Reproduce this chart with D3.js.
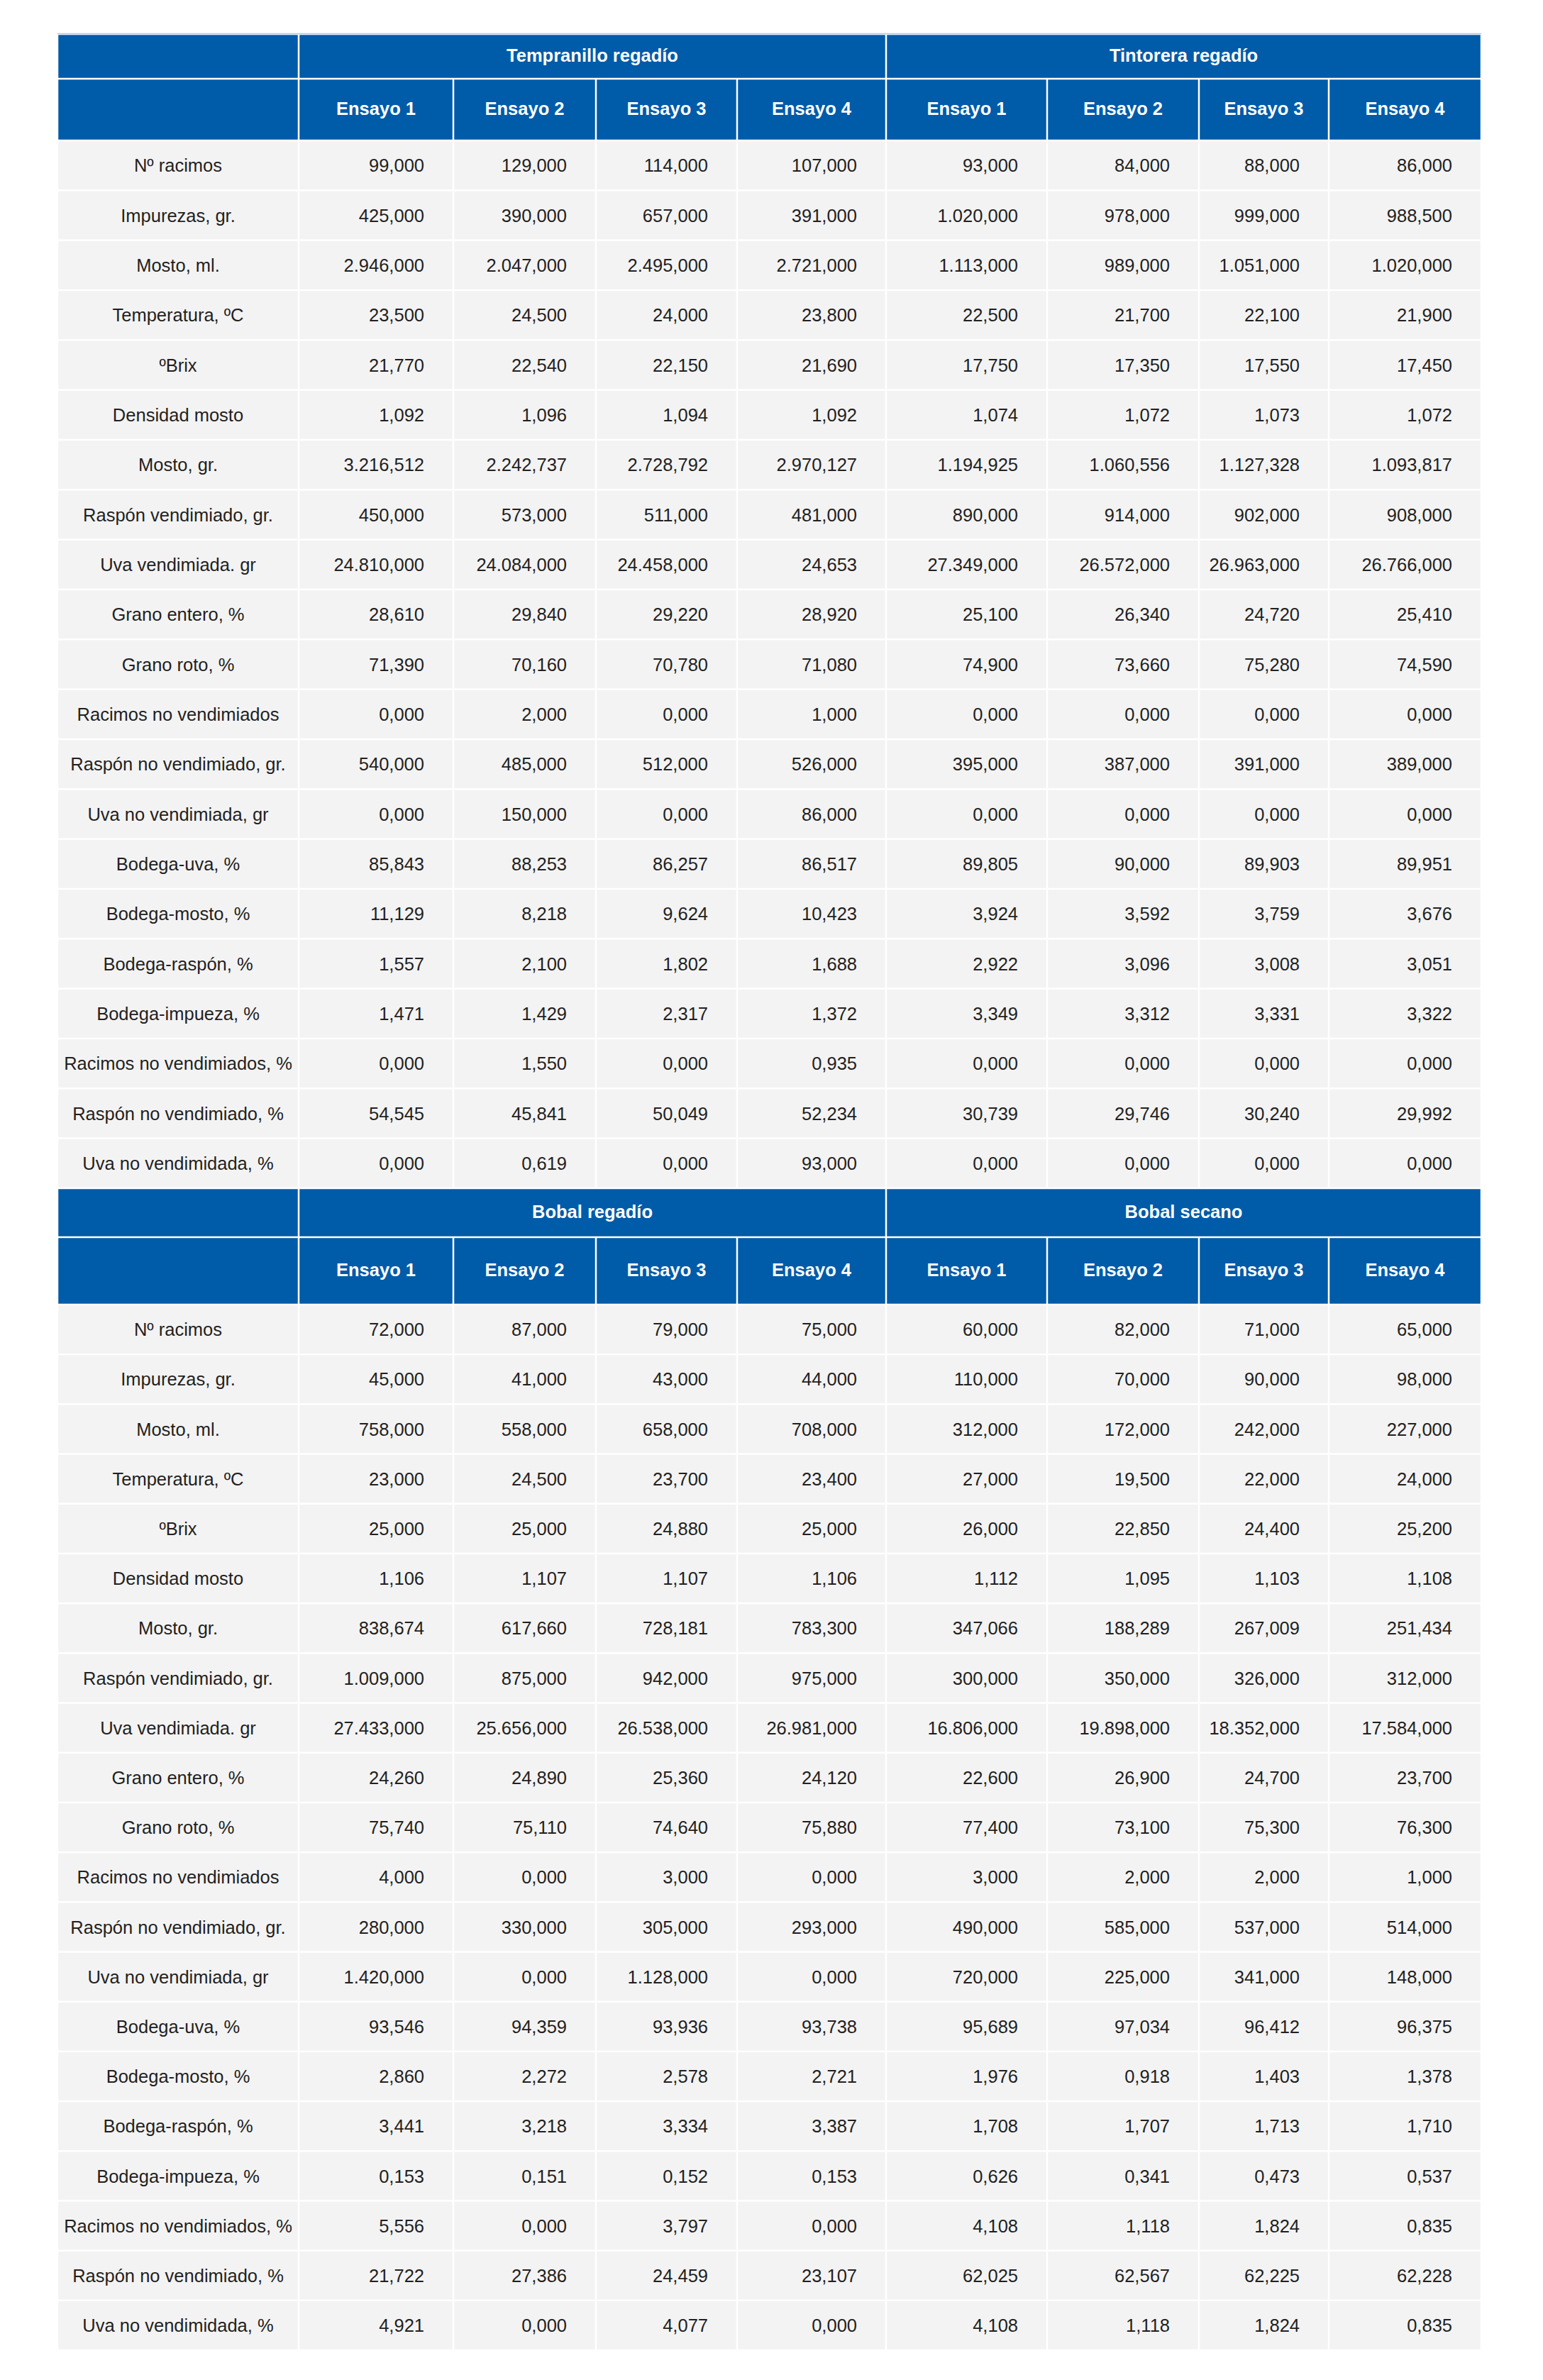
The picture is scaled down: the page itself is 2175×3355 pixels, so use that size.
<!DOCTYPE html>
<html><head><meta charset="utf-8">
<script src="https://cdn.jsdelivr.net/npm/d3@7"></script>
<style>body{margin:0;background:#fff}svg{display:block}</style>
</head><body><svg id="c" width="2175" height="3355"></svg>
<script>
// ---------- DATA ----------
const rowLabels = ["Nº racimos","Impurezas, gr.","Mosto, ml.","Temperatura, ºC","ºBrix","Densidad mosto","Mosto, gr.","Raspón vendimiado, gr.","Uva vendimiada. gr","Grano entero, %","Grano roto, %","Racimos no vendimiados","Raspón no vendimiado, gr.","Uva no vendimiada, gr","Bodega-uva, %","Bodega-mosto, %","Bodega-raspón, %","Bodega-impueza, %","Racimos no vendimiados, %","Raspón no vendimiado, %","Uva no vendimidada, %"];
const ensayos = ["Ensayo 1","Ensayo 2","Ensayo 3","Ensayo 4"];
const groupsTop = ["Tempranillo regadío","Tintorera regadío"];
const groupsBottom = ["Bobal regadío","Bobal secano"];

const tempranillo = [
 [99,129,114,107],[425,390,657,391],[2946,2047,2495,2721],[23.5,24.5,24,23.8],
 [21.77,22.54,22.15,21.69],[1.092,1.096,1.094,1.092],[3216.512,2242.737,2728.792,2970.127],
 [450,573,511,481],[24810,24084,24458,24.653],[28.61,29.84,29.22,28.92],[71.39,70.16,70.78,71.08],
 [0,2,0,1],[540,485,512,526],[0,150,0,86],[85.843,88.253,86.257,86.517],[11.129,8.218,9.624,10.423],
 [1.557,2.1,1.802,1.688],[1.471,1.429,2.317,1.372],[0,1.55,0,0.935],[54.545,45.841,50.049,52.234],[0,0.619,0,93]
];
const tintorera = [
 [93,84,88,86],[1020,978,999,988.5],[1113,989,1051,1020],[22.5,21.7,22.1,21.9],
 [17.75,17.35,17.55,17.45],[1.074,1.072,1.073,1.072],[1194.925,1060.556,1127.328,1093.817],
 [890,914,902,908],[27349,26572,26963,26766],[25.1,26.34,24.72,25.41],[74.9,73.66,75.28,74.59],
 [0,0,0,0],[395,387,391,389],[0,0,0,0],[89.805,90,89.903,89.951],[3.924,3.592,3.759,3.676],
 [2.922,3.096,3.008,3.051],[3.349,3.312,3.331,3.322],[0,0,0,0],[30.739,29.746,30.24,29.992],[0,0,0,0]
];
const bobalRegadio = [
 [72,87,79,75],[45,41,43,44],[758,558,658,708],[23,24.5,23.7,23.4],
 [25,25,24.88,25],[1.106,1.107,1.107,1.106],[838.674,617.66,728.181,783.3],
 [1009,875,942,975],[27433,25656,26538,26981],[24.26,24.89,25.36,24.12],[75.74,75.11,74.64,75.88],
 [4,0,3,0],[280,330,305,293],[1420,0,1128,0],[93.546,94.359,93.936,93.738],[2.86,2.272,2.578,2.721],
 [3.441,3.218,3.334,3.387],[0.153,0.151,0.152,0.153],[5.556,0,3.797,0],[21.722,27.386,24.459,23.107],[4.921,0,4.077,0]
];
const bobalSecano = [
 [60,82,71,65],[110,70,90,98],[312,172,242,227],[27,19.5,22,24],
 [26,22.85,24.4,25.2],[1.112,1.095,1.103,1.108],[347.066,188.289,267.009,251.434],
 [300,350,326,312],[16806,19898,18352,17584],[22.6,26.9,24.7,23.7],[77.4,73.1,75.3,76.3],
 [3,2,2,1],[490,585,537,514],[720,225,341,148],[95.689,97.034,96.412,96.375],[1.976,0.918,1.403,1.378],
 [1.708,1.707,1.713,1.71],[0.626,0.341,0.473,0.537],[4.108,1.118,1.824,0.835],[62.025,62.567,62.225,62.228],[4.108,1.118,1.824,0.835]
];

// ---------- LAYOUT / STYLE ----------
const colEdges = [81, 421, 639, 840, 1039, 1249, 1476, 1690, 1873, 2088];
const sections = [
  {groups: groupsTop, series: [tempranillo, tintorera], top: 48, h1: 63, h2: 87, bottom: 1675},
  {groups: groupsBottom, series: [bobalRegadio, bobalSecano], top: 1675, h1: 69, h2: 95, bottom: 3313}
];
const BLUE = "#005ba9", GRAY = "#f3f3f4", TEXT = "#231f20", FONT = "'Liberation Sans', Arial, Helvetica, sans-serif";
const FS = 25.5, PAD = 41, GAP = 2.5;

const loc = d3.formatLocale({decimal: ",", thousands: ".", grouping: [3], currency: ["", "€"]});
const fmt = loc.format(",.3f");

const svg = d3.select("#c");
svg.append("rect").attr("width", 2175).attr("height", 3355).attr("fill", "#fff");

const x = d3.scaleOrdinal().domain(d3.range(colEdges.length)).range(colEdges);

sections.forEach((sec, si) => {
  const g = svg.append("g");
  const y1 = sec.top, y2 = sec.top + sec.h1, y3 = y2 + sec.h2;
  const yRow = d3.scaleBand().domain(rowLabels).range([y3, sec.bottom]).paddingInner(0);

  const h1cells = [{x0: x(0), x1: x(1), t: ""}].concat(sec.groups.map((gname, gi) => ({x0: x(1 + gi * 4), x1: x(5 + gi * 4), t: gname})));
  const h2cells = [{x0: x(0), x1: x(1), t: ""}].concat(d3.range(8).map(i => ({x0: x(1 + i), x1: x(2 + i), t: ensayos[i % 4]})));

  [[h1cells, y1, y2], [h2cells, y2, y3]].forEach(([cells, ya, yb]) => {
    g.selectAll(null).data(cells).join("rect")
      .attr("x", d => d.x0 + GAP / 2).attr("y", ya + GAP / 2)
      .attr("width", d => d.x1 - d.x0 - GAP).attr("height", yb - ya - GAP)
      .attr("fill", BLUE);
    g.selectAll(null).data(cells).join("text")
      .attr("x", d => (d.x0 + d.x1) / 2).attr("y", (ya + yb) / 2 + FS * 0.36 - 2)
      .attr("text-anchor", "middle").attr("fill", "#fff")
      .attr("font-family", FONT).attr("font-weight", "bold").attr("font-size", FS)
      .text(d => d.t);
  });

  const rows = g.selectAll(null).data(rowLabels).join("g")
    .attr("transform", d => `translate(0,${yRow(d)})`);
  rows.each(function(label, ri) {
    const r = d3.select(this);
    const h = yRow.bandwidth();
    const vals = sec.series[0][ri].concat(sec.series[1][ri]);
    const cells = [{x0: x(0), x1: x(1), t: label, label: true}]
      .concat(vals.map((v, i) => ({x0: x(1 + i), x1: x(2 + i), t: fmt(v)})));
    r.selectAll("rect").data(cells).join("rect")
      .attr("x", d => d.x0 + GAP / 2).attr("y", GAP / 2)
      .attr("width", d => d.x1 - d.x0 - GAP).attr("height", h - GAP)
      .attr("fill", GRAY);
    r.selectAll("text").data(cells).join("text")
      .attr("x", d => d.label ? (d.x0 + d.x1) / 2 : d.x1 - PAD)
      .attr("y", h / 2 + FS * 0.36)
      .attr("text-anchor", d => d.label ? "middle" : "end")
      .attr("fill", TEXT).attr("font-family", FONT).attr("font-size", FS)
      .text(d => d.t);
  });

  if (si === 0) {
    g.append("line").attr("x1", x(0)).attr("x2", x(9)).attr("y1", y1 - 0.5).attr("y2", y1 - 0.5)
      .attr("stroke", "#a9c7e6").attr("stroke-width", 1.5);
  }
});
</script></body></html>
